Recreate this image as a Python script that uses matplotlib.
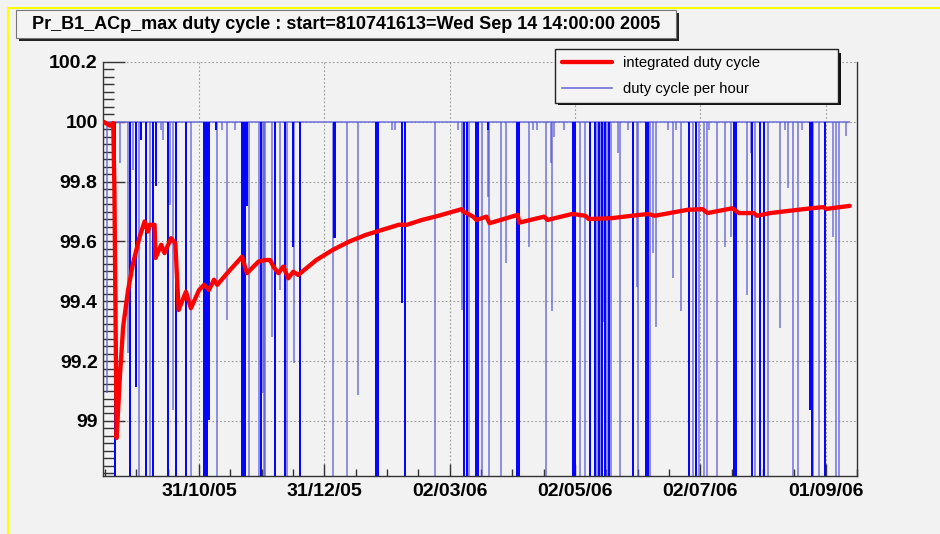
import numpy as np
import matplotlib
matplotlib.use('Agg')
import matplotlib.pyplot as plt
import matplotlib.dates as mdates
from matplotlib.patches import Rectangle
from matplotlib.lines import Line2D
from datetime import datetime

plt.rcParams['font.family'] = ['Liberation Sans', 'DejaVu Sans']

START = datetime(2005, 9, 14, 14, 0, 0)
TITLE = 'Pr_B1_ACp_max duty cycle : start=810741613=Wed Sep 14 14:00:00 2005'

# integrated duty cycle (days since start, %)
integ_days = [0.0, 3.04, 4.63, 5.2, 6.27, 7.86, 9.45, 11.86, 14.27, 15.91, 17.5, 19.91,
              21.5, 22.32, 24.73, 25.22, 27.97, 29.56, 32.79, 34.86, 36.45, 40.02, 42.43,
              46.43, 48.84, 51.25, 53.66, 55.26, 60.08, 67.31, 69.72, 75.36, 78.59, 81.0,
              82.59, 85.0, 87.42, 89.83, 92.24, 94.65, 103.47, 111.52, 119.58, 127.58,
              135.63, 143.68, 147.69, 154.92, 162.97, 174.2, 175.2, 176.6, 179.8, 181.4,
              186.3, 187.8, 201.5, 202.3, 214.4, 216.0, 228.1, 234.5, 236.1, 247.3, 257.0,
              265.0, 268.2, 284.3, 291.5, 293.9, 306.0, 309.2, 316.4, 318.0, 324.5, 340.5,
              350.2, 351.8, 363.1]
integ_vals = [100.0, 99.987, 99.996, 99.773, 98.943, 99.148, 99.315, 99.438, 99.527, 99.572,
              99.616, 99.667, 99.633, 99.656, 99.656, 99.545, 99.589, 99.561, 99.611, 99.594,
              99.371, 99.432, 99.377, 99.438, 99.455, 99.438, 99.472, 99.455, 99.494, 99.549,
              99.494, 99.533, 99.538, 99.538, 99.516, 99.494, 99.516, 99.477, 99.499, 99.488,
              99.538, 99.572, 99.6, 99.622, 99.639, 99.656, 99.656, 99.672, 99.686, 99.708,
              99.699, 99.695, 99.683, 99.672, 99.683, 99.661, 99.689, 99.663, 99.683, 99.672,
              99.692, 99.686, 99.675, 99.678, 99.686, 99.692, 99.686, 99.706, 99.708, 99.695,
              99.711, 99.695, 99.695, 99.686, 99.695, 99.708, 99.715, 99.709, 99.719]

# hourly duty cycle dips (days since start, %), everything else is 100
# long outages (several hours in a row)
dip_long_days = [5.45, 12.68, 15.57, 18.31, 20.72, 23.93, 25.54, 31.16, 35.18, 40.0, 48.84,
                 49.64, 50.45, 51.25, 54.47, 67.32, 68.13, 68.93, 69.73, 76.48, 83.4, 88.22,
                 91.91, 95.45, 112.33, 112.81, 132.74, 133.54, 144.95, 146.88, 175.49, 176.62,
                 181.44, 182.24, 187.06, 201.04, 202.01, 228.37, 229.34, 236.88, 238.97, 240.9,
                 242.5, 244.1, 245.73, 257.78, 263.73, 265.0, 285.1, 288.32, 306.8, 307.92,
                 315.64, 319.66, 321.26, 343.76, 344.57, 351.0]
dip_long_vals = [0.0, 0.0, 99.115, 99.94, 0.0, 0.0, 99.784, 0.0, 0.0, 0.0, 0.0,
                 0.0, 0.0, 99.003, 99.973, 0.0, 0.0, 0.0, 99.717, 0.0, 0.0, 0.0,
                 99.583, 0.0, 99.611, 99.611, 0.0, 0.0, 99.394, 0.0, 0.0, 0.0,
                 0.0, 0.0, 99.973, 0.0, 0.0, 0.0, 0.0, 0.0, 0.0, 0.0,
                 0.0, 0.0, 0.0, 0.0, 0.0, 0.0, 0.0, 0.0, 0.0, 0.0,
                 0.0, 0.0, 0.0, 99.037, 0.0, 0.0]
# single-hour dips
dip_days = [1.43, 7.86, 11.88, 14.29, 17.18, 22.32, 27.95, 28.75, 32.45, 33.57, 42.42, 55.28,
            57.68, 60.09, 64.11, 70.54, 75.36, 77.29, 77.77, 78.57, 81.79, 85.81, 89.35, 92.56,
            111.53, 118.27, 123.58, 140.13, 141.74, 161.34, 172.6, 174.2, 177.74, 184.33,
            187.06, 187.54, 193.49, 195.58, 207.15, 208.76, 210.69, 215.19, 217.6, 218.08,
            219.2, 224.03, 232.06, 234.47, 240.09, 241.7, 243.3, 244.9, 247.0, 250.54, 251.35,
            255.3, 259.4, 260.2, 265.97, 267.42, 269.03, 274.65, 277.06, 278.67, 280.76,
            286.71, 289.93, 292.33, 293.46, 294.74, 298.76, 302.46, 305.51, 312.9, 314.84,
            316.93, 323.19, 328.98, 331.7, 333.32, 335.73, 338.14, 339.75, 345.37, 348.27,
            355.01, 356.3, 357.9, 361.44]
dip_vals = [99.093, 99.862, 99.226, 99.839, 0.0, 0.0, 99.973, 99.94, 99.722, 99.037, 0.0, 0.0,
            99.973, 99.338, 99.973, 0.0, 0.0, 99.093, 0.0, 0.0, 99.282, 99.438, 0.0, 99.193,
            0.0, 0.0, 99.087, 99.973, 99.973, 0.0, 99.973, 99.371, 0.0, 0.0,
            99.75, 0.0, 0.0, 99.527, 99.583, 99.973, 99.973, 0.0, 99.862, 99.366,
            99.95, 99.973, 0.0, 0.0, 0.0, 0.0, 99.33, 0.0, 0.0, 99.895, 0.0,
            99.973, 99.449, 0.0, 0.0, 99.561, 99.315, 99.973, 99.477, 99.973, 99.366,
            0.0, 0.0, 0.0, 0.0, 99.973, 0.0, 99.583, 99.616, 99.421, 99.895,
            0.0, 0.0, 99.31, 99.973, 99.778, 0.0, 0.0, 99.973, 0.0, 0.0,
            99.616, 0.0, 0.0, 99.951]
data_end_day = 363.5

x_tick_labels = ['31/10/05', '31/12/05', '02/03/06', '02/05/06', '02/07/06', '01/09/06']
y_ticks = [99, 99.2, 99.4, 99.6, 99.8, 100, 100.2]
y_tick_labels = ['99', '99.2', '99.4', '99.6', '99.8', '100', '100.2']

W, H = 940, 534


def px_rect(x0, y0, x1, y1, **kw):
    # rectangle given in image pixels (origin top-left)
    return Rectangle((x0 / W, 1 - y1 / H), (x1 - x0) / W, (y1 - y0) / H,
                     transform=fig.transFigure, **kw)


fig = plt.figure(figsize=(W / 100, H / 100), dpi=100)
fig.patch.set_facecolor('#f2f2f2')
ax = fig.add_axes([102.5 / W, 1 - 476 / H, (857 - 102.5) / W, (476 - 62) / H])
ax.set_facecolor('#f2f2f2')

t0 = mdates.date2num(START)
ax.hlines(100, t0, t0 + data_end_day, color='#6f6fdc', lw=1.1, zorder=2)
ax.vlines(t0 + np.array(dip_days), dip_vals, 100, color='#5555dd', lw=1.2, alpha=0.75, zorder=2)
ax.vlines(t0 + np.array(dip_long_days), dip_long_vals, 100, color='#0000ff', lw=1.4, zorder=2)
red_line, = ax.plot(t0 + np.array(integ_days), integ_vals, color='#ff0000', lw=3.1,
                    solid_joinstyle='round', solid_capstyle='round', zorder=3)

ax.set_xlim(t0 - 0.6, t0 + 363.2)
ax.set_ylim(98.816, 100.2)

major_x = [mdates.date2num(datetime.strptime(s, '%d/%m/%y')) for s in x_tick_labels]
ax.set_xticks(major_x, x_tick_labels)
ax.set_xticks(np.arange(major_x[0] - 3 * 15.25, major_x[-1] + 16, 15.25), minor=True)
ax.set_yticks(y_ticks, y_tick_labels)
ax.set_yticks(np.arange(98.825, 100.2, 0.025), minor=True)

ax.tick_params(axis='both', which='both', direction='in', color='#333333', width=1,
               top=False, right=False)
ax.tick_params(axis='x', which='major', length=8.5, pad=5, labelsize=14)
ax.tick_params(axis='x', which='minor', length=5)
ax.tick_params(axis='y', which='major', length=16, pad=3.5, labelsize=14)
ax.tick_params(axis='y', which='minor', length=8)
for lab in ax.get_xticklabels() + ax.get_yticklabels():
    lab.set_fontweight('bold')

for side in ['left', 'bottom', 'right']:
    ax.spines[side].set_color('#333333')
    ax.spines[side].set_linewidth(1)
ax.spines['top'].set_visible(False)
ax.grid(True, which='major', color='#9a9a9a', lw=0.8, ls=(0, (1.5, 2)))
ax.set_axisbelow(True)

# title box with shadow
fig.add_artist(px_rect(19, 13, 679, 41, facecolor='#222222', edgecolor='none', zorder=3))
fig.add_artist(px_rect(16, 10, 676, 38, facecolor='#f4f4f4', edgecolor='#777777', lw=0.8,
                       zorder=4))
fig.text(346 / W, 1 - 24.5 / H, TITLE, fontsize=13, fontweight='bold', va='center',
         ha='center', zorder=5)

# legend with shadow
fig.add_artist(px_rect(558, 53, 841, 105, facecolor='#111111', edgecolor='none', zorder=3))
blue_handle = Line2D([], [], color='#6f6fdc', lw=1.2)
leg = fig.legend([red_line, blue_handle], ['integrated duty cycle', 'duty cycle per hour'],
                 loc='center', bbox_to_anchor=(555 / W, 1 - 102 / H, 283 / W, 52 / H),
                 mode='expand', fancybox=False, fontsize=10.7, labelspacing=0.8,
                 handlelength=3.36, handletextpad=0.74, borderpad=0.45, borderaxespad=0)
leg.set_zorder(4)
leg.get_frame().set_facecolor('#f4f4f4')
leg.get_frame().set_edgecolor('#222222')
leg.get_frame().set_linewidth(1)
leg.get_frame().set_alpha(1)

# yellow canvas border
fig.add_artist(Line2D([8 / W, 8 / W], [0, 1 - 8 / H], transform=fig.transFigure,
                      color='#ffff00', lw=1.5))
fig.add_artist(Line2D([8 / W, 1], [1 - 8 / H, 1 - 8 / H], transform=fig.transFigure,
                      color='#ffff00', lw=1.5))

fig.savefig('out.png', dpi=100, facecolor=fig.get_facecolor())
